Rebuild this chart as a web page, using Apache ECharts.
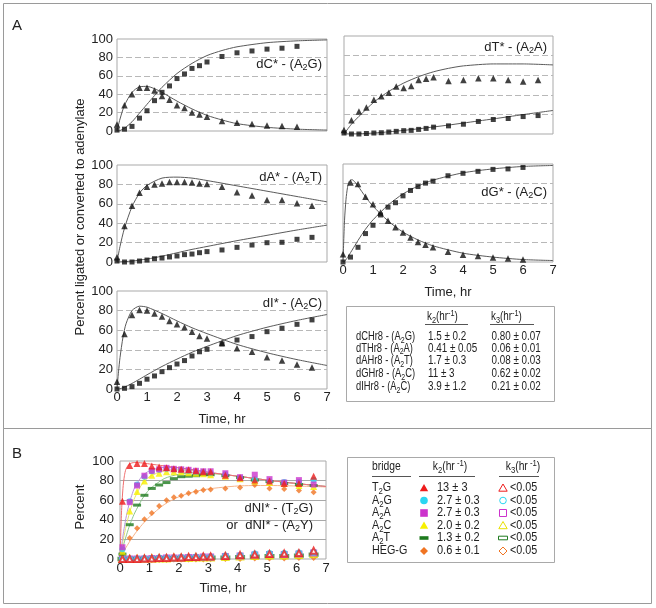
<!DOCTYPE html>
<html><head><meta charset="utf-8">
<script src="https://cdn.jsdelivr.net/npm/echarts@6/dist/echarts.min.js"></script>
<style>html,body{margin:0;padding:0;background:#fff}#c{width:656px;height:608px}</style>
</head><body><div id="c"></div>
<script>
const FONT = "'Liberation Sans', Arial, Helvetica, sans-serif";

// ---------- Panel A data (time in hr, percent) ----------
const tA19 = [0,0.25,0.5,0.75,1,1.25,1.5,1.75,2,2.25,2.5,2.75,3,3.5,4,4.5,5,5.5,6];
const tA20 = [0,0.25,0.5,0.75,1,1.25,1.5,1.75,2,2.25,2.5,2.75,3,3.5,4,4.5,5,5.5,6,6.5];

const dC_tri = [7,28,40,47,47,44,38,34,28,25,20,18,15.5,11,9,7.5,6,5.5,4.5];
const dC_sq  = [1,2,5,14,22,33,42,49,57,62,68,71,75,81,85,87,89,90,92];
const dC_ct  = [0,0.1,0.25,0.5,0.75,1,1.25,1.5,2,2.5,3,3.5,4,5,6,7];
const dC_ci  = [0,13,28,42,48,48.5,46,42,32.5,24,17,12,8,4,2,1];
const dC_cp  = [0,0.5,3,10,19.5,29,38.5,47.5,62.5,73.5,82,87.5,91.5,96,98,99];

const dT_tri = [4,14,23,27,35,38.5,42,48.5,47,49,55,56.5,58,54,55,57,57,55,53.5,55];
const dT_sq  = [1,0,0,0.5,1,1.3,2,2.7,3.4,3.7,4.7,5.7,7,8.3,10,12.8,14.8,15.8,17.8,18.8];
const dT_ct  = [0,0.25,0.5,1,1.5,2,2.5,3,3.5,4,5,6,7];
const dT_ci  = [0,10,18,32.5,43.5,52,58.5,63.5,67,69.5,71.5,71.5,70.5];
const dT_cp  = [0,0,0.2,1,2.2,3.7,5.3,7.2,9.1,11.2,15.4,19.8,24];

const dA_tri = [5,37,58,71.5,77.5,80,81,82.5,82.5,82.5,82,81,80.5,77.5,72,68.5,64,64,60.5,58];
const dA_sq  = [1,0,0,1,2,3.4,4.1,5.2,6.2,7.6,8.2,9.6,10.7,12.4,15.1,17.5,19.9,20.3,23.4,25.4];
const dA_ct  = [0,0.1,0.25,0.5,0.75,1,1.5,2,2.5,3,4,5,6,7];
const dA_ci  = [0,16,35,57,71,79,86.5,87.5,86.5,84,78.5,73,67.5,62];
const dA_cp  = [0,0,0.3,1,2,3,6,9.5,13,16,22,27.5,33,38];

const dG_tri = [8,81,79.5,66.5,59,50.5,42,35.5,30,25,20.5,17.5,15,10.5,7.5,6,4.5,3.5,2.5];
const dG_sq  = [0,5,15,29,37.5,48,56,60.5,67.5,73,77,80.5,82.5,88,90.5,92.5,94.5,95,96.5];
const dG_ct  = [0,0.05,0.1,0.15,0.2,0.3,0.4,0.5,0.75,1,1.5,2,2.5,3,4,5,6,7];
const dG_ci  = [0,42,64,76,82,84,81.5,77.5,66.5,57,42,30.5,22.5,16.5,9,5,2.5,1.5];
const dG_cp  = [0,0.5,2.5,4.5,7,12,17,22,33.5,43,58,69.5,77.5,83.5,91,95,97.5,98.5];

const dI_tri = [7.5,56,75.5,80.5,80,77,74,69.5,66,63,58.5,54,51.5,47,41.5,38,32.5,29,25,22];
const dI_sq  = [0,0.7,2.4,5.8,10,13.3,17.7,21.8,25.5,29,33.7,38,40.5,46,50,53.5,58.5,62,66,70.5];
const dI_ct  = [0,0.05,0.1,0.2,0.3,0.5,0.75,1,1.5,2,2.5,3,4,5,6,7];
const dI_ci  = [0,17.5,32,53,66.5,80,84.5,83.5,77,69.5,62.5,56.5,45.5,37,30,24];
const dI_cp  = [0,0,0.2,1.3,2.6,5.7,10,14.5,23,30.5,37.5,43.5,54.5,63,70,76];

const panelTitles = ['dC* - (A_2G)','dT* - (A_2A)','dA* - (A_2T)','dG* - (A_2C)','dI* - (A_2C)'];

// table A
const tabA_rows = ['dCHr8 - (A_2G)','dTHr8 - (A_2A)','dAHr8 - (A_2T)','dGHr8 - (A_2C)','dIHr8 - (A_2C)'];
const tabA_k2 = ['1.5 ± 0.2','0.41 ± 0.05','1.7 ± 0.3','11 ± 3','3.9 ± 1.2'];
const tabA_k3 = ['0.80 ± 0.07','0.06 ± 0.01','0.08 ± 0.03','0.62 ± 0.02','0.21 ± 0.02'];

// ---------- Panel B data ----------
const tB = [0.083,0.33,0.58,0.83,1.08,1.33,1.58,1.83,2.08,2.33,2.58,2.83,3.08,3.58,4.08,4.58,5.08,5.58,6.08,6.58];
const T2G_f  = [59,95.5,97.5,97.5,95,94,93,92,91.5,91,90,89,89,85.5,83,80.5,79.5,77,77,84.5];
const A2G_f  = [10,59,76,84,89.5,91,92,91.5,91,90,89,89,88,86.5,83,81.5,79.5,78.5,78.5,80.5];
const A2A_f  = [12,58,75,85,90,91.5,93,92,91.5,91,90,89.5,89.5,87.5,83.5,86,81.5,78,80.5,76];
const A2C_f  = [8,49,69,79.5,85.5,87.5,89,89,89,88,87.5,87,86,84.5,82,79.5,78,77,75,74];
const A2T_f  = [5,35,55,65,72,75.5,78,82,84,84.5,85,86,86,85,83,80.5,79,77,76,75];
const HEGG_f = [5,21.5,31.5,40.5,47,54,60,63,64.5,67,68.5,70.5,71,72,73,75.5,72,71.5,70,68];

const T2G_o  = [0,0,0,0.5,0.5,1,1,1.5,1.5,2,2,2.5,2.5,3,4,4.5,5,5.5,6,8.5];
const A2G_o  = [0,0,0,0.5,0.5,1,1,1,1.5,1.5,2,2,2,3,3.5,5,5.5,5.5,6,7];
const A2A_o  = [0,0,0,0,0.5,0.5,1,1,1,1.5,1.5,2,2,2.5,3,4,4.5,4.5,5,6];
const A2C_o  = [0,0,0,0,0.5,0.5,0.5,1,1,1,1.5,1.5,1.5,2,2.5,3,3.5,3.5,4,5];
const A2T_o  = [0,0,0,0,0,0.5,0.5,0.5,1,1,1,1,1.5,1.5,2,2.5,3,3,3.5,4.5];
const HEGG_o = [0,0,0,0,0,0,0,0.5,0.5,0.5,0.5,0.5,1,1,1,1.5,1.5,1.5,2,2];

const tBc = [0,0.05,0.1,0.15,0.2,0.3,0.4,0.5,0.75,1,1.5,2,2.5,3,4,5,6,7];
const T2G_c  = [0,47,72,85,91.5,96.5,98,98.5,98,97,95,93,91,88.5,84.5,80.5,77,74];
const A2G_c  = [0,12.5,23.5,33,41.5,55,65,73,84.5,90,93.5,93,91,88.5,84.5,80.5,77,74];
const A2C_c  = [0,9.5,18,25.5,32.5,44.5,54.5,62.5,76.5,84,90,91,90,88,84.5,80.5,77,74];
const A2T_c  = [0,6.3,12,17.5,22.5,32,40,47,61,71,82,86.5,88,87.5,84.5,80.5,77,74];
const HEGG_c = [0,3,6,8.5,11.5,16.5,21,25.5,35,43,55.5,63.5,68.5,71.5,74.5,75,74.5,73.5];

const tabB_rows = ['T_2G','A_2G','A_2A','A_2C','A_2T','HEG-G'];
const tabB_k2 = ['13 ± 3','2.7 ± 0.3','2.7 ± 0.3','2.0 ± 0.2','1.3 ± 0.2','0.6 ± 0.1'];
const tabB_k3 = ['<0.05','<0.05','<0.05','<0.05','<0.05','<0.05'];

// ---------- helpers ----------
const zip = (t, v) => t.map((x, i) => [x, v[i]]);
function rich(str){
  let out='', re=/_(.)|\^\{([^}]*)\}/g, last=0, m;
  while((m=re.exec(str))){
    if(m.index>last) out+='{a|'+str.slice(last,m.index)+'}';
    if(m[1]!==undefined) out+='{s|'+m[1]+'}'; else out+='{p|'+m[2]+'}';
    last=re.lastIndex;
  }
  if(last<str.length) out+='{a|'+str.slice(last)+'}';
  return out;
}
function richStyle(fs){
  const c='#222', sf=Math.round(fs*0.72);
  return {
    a:{fontSize:fs,fontFamily:FONT,fill:c,color:c,lineHeight:fs+4},
    s:{fontSize:sf,fontFamily:FONT,fill:c,color:c,lineHeight:sf,verticalAlign:'bottom'},
    p:{fontSize:sf,fontFamily:FONT,fill:c,color:c,lineHeight:sf,verticalAlign:'top'}
  };
}
function txt(x,y,str,fs,align,opts){
  opts=opts||{};
  return Object.assign({type:'text',x:x,y:y,z:100,silent:true,
    scaleX:opts.sx||1, rotation:opts.rot||0,
    style:{text:rich(str),rich:richStyle(fs),fill:'#222',
      font:(opts.bold?'bold ':'')+fs+'px '+FONT,
      align:align,textAlign:align,verticalAlign:'middle',textVerticalAlign:'middle'}});
}

// ---------- layout ----------
const grids = [
  {left:117, top:39,  width:210, height:92},
  {left:344, top:36,  width:209, height:98},
  {left:117, top:165, width:210, height:97},
  {left:343, top:164, width:210, height:98},
  {left:117, top:291, width:210, height:98},
  {left:120, top:461, width:206, height:98}
].map(g => Object.assign(g, {show:true, borderColor:'#a9a9a9', borderWidth:1, backgroundColor:'transparent'}));

const xLabelOn = [false,false,false,true,true,true];
const yLabelOn = [true,false,true,false,true,true];
const xAxis = grids.map((g,i)=>({
  gridIndex:i, type:'value', min:0, max:7, interval:1,
  axisLine:{show:false}, axisTick:{show:false}, splitLine:{show:false},
  axisLabel:{show:xLabelOn[i], fontSize:13, fontFamily:FONT, color:'#222', margin:i===5?3:2},
  name: xLabelOn[i] ? 'Time, hr' : '', nameLocation:'middle', nameGap:i===5?23:24,
  nameTextStyle:{fontSize:13, fontFamily:FONT, color:'#222'}
}));
const yAxis = grids.map((g,i)=>({
  gridIndex:i, type:'value', min:0, max:100, interval:20,
  axisLine:{show:false}, axisTick:{show:false},
  axisLabel:{show:yLabelOn[i], fontSize:13, fontFamily:FONT, color:'#222', margin:i===5?6:4},
  splitLine:{show:true, showMinLine:false, showMaxLine:false,
    lineStyle: i===5 ? {color:'#a8a8a8', width:1, type:'solid'} : {color:'#b8b8b8', width:1, type:[6,3]}}
}));

const series = [];
const panels = [
  [tA19,dC_tri,dC_sq,dC_ct,dC_ci,dC_cp],
  [tA20,dT_tri,dT_sq,dT_ct,dT_ci,dT_cp],
  [tA20,dA_tri,dA_sq,dA_ct,dA_ci,dA_cp],
  [tA19,dG_tri,dG_sq,dG_ct,dG_ci,dG_cp],
  [tA20,dI_tri,dI_sq,dI_ct,dI_ci,dI_cp]
];
panels.forEach((p,i)=>{
  const [t,tri,sq,ct,ci,cp]=p;
  [ci,cp].forEach(c=>series.push({type:'line', xAxisIndex:i, yAxisIndex:i, data:zip(ct,c),
    showSymbol:false, smooth:0.25, z:2, silent:true,
    lineStyle:{color:'#5a5a5a', width:1}}));
  series.push({type:'scatter', xAxisIndex:i, yAxisIndex:i, data:zip(t,tri), symbol:'triangle', symbolSize:6.5, z:3, itemStyle:{color:'#111'}});
  series.push({type:'scatter', xAxisIndex:i, yAxisIndex:i, data:zip(t,sq), symbol:'rect', symbolSize:5, z:3, itemStyle:{color:'#111'}});
});

// Panel B curves
const bCurves = [
  [HEGG_c,'#f6b38a'],[A2T_c,'#8cc68c'],[A2C_c,'#e6e66a'],[A2G_c,'#b996dc'],[T2G_c,'#ef6f6f']
];
bCurves.forEach(([c,col])=>series.push({type:'line', xAxisIndex:5, yAxisIndex:5, data:zip(tBc,c),
  showSymbol:false, smooth:0.25, z:2, silent:true, lineStyle:{color:col, width:1}}));

const COL = {T2G:'#ee1c1c', A2G:'#2ad6f2', A2A:'#cc33cc', A2C:'#f7f000', A2T:'#1e7a1e', HEGG:'#f07422'};
const openDefs = [
  [HEGG_o,'emptyDiamond',5,COL.HEGG],[A2T_o,'emptyRect',[7,3],'#3a8a3a'],[A2C_o,'emptyTriangle',6,'#e8e000'],
  [A2A_o,'emptyRect',5,COL.A2A],[A2G_o,'emptyCircle',5,COL.A2G],[T2G_o,'emptyTriangle',6,COL.T2G]
];
openDefs.forEach(([v,sym,sz,col])=>series.push({type:'scatter', xAxisIndex:5, yAxisIndex:5, data:zip(tB,v),
  symbol:sym, symbolSize:sz, z:3, itemStyle:{color:col, borderColor:col, borderWidth:1}}));
const fillDefs = [
  [HEGG_f,'diamond',6,COL.HEGG],[A2T_f,'rect',[8,3],COL.A2T],[A2C_f,'triangle',7,COL.A2C],
  [A2G_f,'circle',6,COL.A2G],[A2A_f,'rect',6,COL.A2A],[T2G_f,'triangle',7,COL.T2G]
];
fillDefs.forEach(([v,sym,sz,col])=>series.push({type:'scatter', xAxisIndex:5, yAxisIndex:5, data:zip(tB,v),
  symbol:sym, symbolSize:sz, z:4, itemStyle:{color:col}}));

// ---------- graphics ----------
const G = [];
G.push({type:'rect', z:1, silent:true, shape:{x:3.5,y:3.5,width:648,height:425}, style:{fill:'none',stroke:'#9a9a9a',lineWidth:1}});
G.push({type:'rect', z:1, silent:true, shape:{x:3.5,y:428.5,width:648,height:175}, style:{fill:'none',stroke:'#9a9a9a',lineWidth:1}});
G.push(txt(12,26,'A',15,'left',{bold:true}));
G.push(txt(12,454,'B',15,'left',{bold:true}));
G.push(txt(80,217,'Percent ligated or converted to adenylate',13,'center',{rot:Math.PI/2}));
G.push(txt(80,507,'Percent',13,'center',{rot:Math.PI/2}));
const titlePos = [[322,64],[547,47],[322,177],[547,192],[322,303]];
panelTitles.forEach((s,i)=>G.push(txt(titlePos[i][0],titlePos[i][1],s,13,'right')));
G.push(txt(313,508,'dNI* - (T_2G)',13,'right'));
G.push(txt(313,525,'or  dNI* - (A_2Y)',13,'right'));

// table A
G.push({type:'rect', z:1, silent:true, shape:{x:346.5,y:306.5,width:208,height:95}, style:{fill:'#fff',stroke:'#a9a9a9',lineWidth:1}});
G.push(txt(427,317,'k_2(hr^{-1})',12,'left',{sx:0.82}));
G.push(txt(491,317,'k_3(hr^{-1})',12,'left',{sx:0.82}));
[[425,468],[490,534]].forEach(([a,b])=>G.push({type:'line',z:90,silent:true,shape:{x1:a,y1:324.5,x2:b,y2:324.5},style:{stroke:'#555',lineWidth:1}}));
const rowYA = [337,348.5,361,374,387];
tabA_rows.forEach((s,i)=>{
  G.push(txt(356,rowYA[i],s,12,'left',{sx:0.78}));
  G.push(txt(428,rowYA[i],tabA_k2[i],12,'left',{sx:0.82}));
  G.push(txt(491.5,rowYA[i],tabA_k3[i],12,'left',{sx:0.82}));
});

// table B
G.push({type:'rect', z:1, silent:true, shape:{x:347.5,y:457.5,width:207,height:105}, style:{fill:'#fff',stroke:'#a9a9a9',lineWidth:1}});
G.push(txt(372,467,'bridge',12,'left',{sx:0.86}));
G.push(txt(450,467,'k_2(hr^{ -1})',12,'center',{sx:0.86}));
G.push(txt(523,467,'k_3(hr^{ -1})',12,'center',{sx:0.86}));
[[372,411],[419,475],[499,539]].forEach(([a,b])=>G.push({type:'line',z:90,silent:true,shape:{x1:a,y1:476.5,x2:b,y2:476.5},style:{stroke:'#555',lineWidth:1}}));
const rowYB = [488,500.5,513,525.5,538,551];
const glyphB = [['tri',COL.T2G],['circ',COL.A2G],['sq',COL.A2A],['tri',COL.A2C],['dash',COL.A2T],['dia',COL.HEGG]];
function glyph(kind,x,y,col,open){
  const st = open ? {fill:'#fff',stroke:col,lineWidth:1} : {fill:col};
  const base = {z:95,silent:true,style:st};
  if(kind==='tri') return Object.assign(base,{type:'polygon',shape:{points:[[x,y-4],[x+4.2,y+3.2],[x-4.2,y+3.2]]}});
  if(kind==='circ') return Object.assign(base,{type:'circle',shape:{cx:x,cy:y,r:open?3.3:3.8}});
  if(kind==='sq') return Object.assign(base,{type:'rect',shape:open?{x:x-3.5,y:y-3.5,width:7,height:7}:{x:x-3.8,y:y-3.8,width:7.6,height:7.6}});
  if(kind==='dash') return Object.assign(base,{type:'rect',shape:{x:x-4.5,y:y-1.8,width:9,height:3.6}});
  return Object.assign(base,{type:'polygon',shape:{points:[[x,y-4],[x+4,y],[x,y+4],[x-4,y]]}});
}
tabB_rows.forEach((s,i)=>{
  const y=rowYB[i];
  G.push(txt(372,y,s,12.5,'left',{sx:0.86}));
  G.push(glyph(glyphB[i][0],424,y,glyphB[i][1],false));
  G.push(txt(437,y,tabB_k2[i],12.5,'left',{sx:0.88}));
  G.push(glyph(glyphB[i][0],503,y,glyphB[i][1]==='#f7f000'?'#e8e000':glyphB[i][1],true));
  G.push(txt(510,y,tabB_k3[i],12.5,'left',{sx:0.86}));
});

const chart = echarts.init(document.getElementById('c'), null, {renderer:'canvas'});
chart.setOption({
  animation:false,
  backgroundColor:'#fff',
  textStyle:{fontFamily:FONT},
  grid:grids, xAxis:xAxis, yAxis:yAxis, series:series,
  graphic:{elements:G}
});
</script></body></html>
